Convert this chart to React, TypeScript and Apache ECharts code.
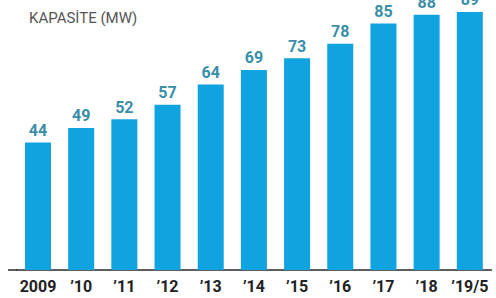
import React, { useEffect, useRef } from "react";
import * as echarts from "echarts";

const categories = ["2009", "’10", "’11", "’12", "’13", "’14", "’15", "’16", "’17", "’18", "’19/5"];
const capacity = [44, 49, 52, 57, 64, 69, 73, 78, 85, 88, 89];
const titleText = "KAPASİTE (MW)";

export default function App() {
  const ref = useRef<HTMLDivElement>(null);
  useEffect(() => {
    if (!ref.current) return;
    const chart = echarts.init(ref.current, null, { renderer: "svg" });
    chart.setOption({
      animation: false,
      backgroundColor: "#ffffff",
      title: {
        text: titleText,
        left: 24,
        top: 5,
        textStyle: { fontFamily: "Roboto", fontSize: 15, fontWeight: "normal", color: "#555555" },
      },
      grid: { left: 16.4, right: 4.6, top: 9, bottom: 28 },
      xAxis: {
        type: "category",
        data: categories,
        axisLine: { show: true, lineStyle: { color: "#2a2a2a", width: 1.5 } },
        axisTick: { show: false },
        axisLabel: {
          interval: 0,
          hideOverlap: false,
          margin: 8,
          fontFamily: "Roboto",
          fontWeight: "bold",
          fontSize: 16,
          color: "#222222",
        },
      },
      yAxis: { type: "value", min: 0, max: 90, show: false, splitLine: { show: false } },
      graphic: [
        {
          type: "line",
          shape: { x1: 8, y1: 270, x2: 17, y2: 270 },
          style: { stroke: "#2a2a2a", lineWidth: 1.5 },
        },
      ],
      series: [
        {
          type: "bar",
          data: capacity,
          barWidth: 26,
          itemStyle: { color: "#0fa3df" },
          label: {
            show: true,
            position: "top",
            distance: 4,
            fontFamily: "Roboto",
            fontWeight: "bold",
            fontSize: 16,
            color: "#3a8ea8",
          },
        },
      ],
    });
    return () => chart.dispose();
  }, []);
  return (
    <div
      ref={ref}
      style={{ position: "fixed", left: 0, top: 0, width: 496, height: 298 }}
    />
  );
}
